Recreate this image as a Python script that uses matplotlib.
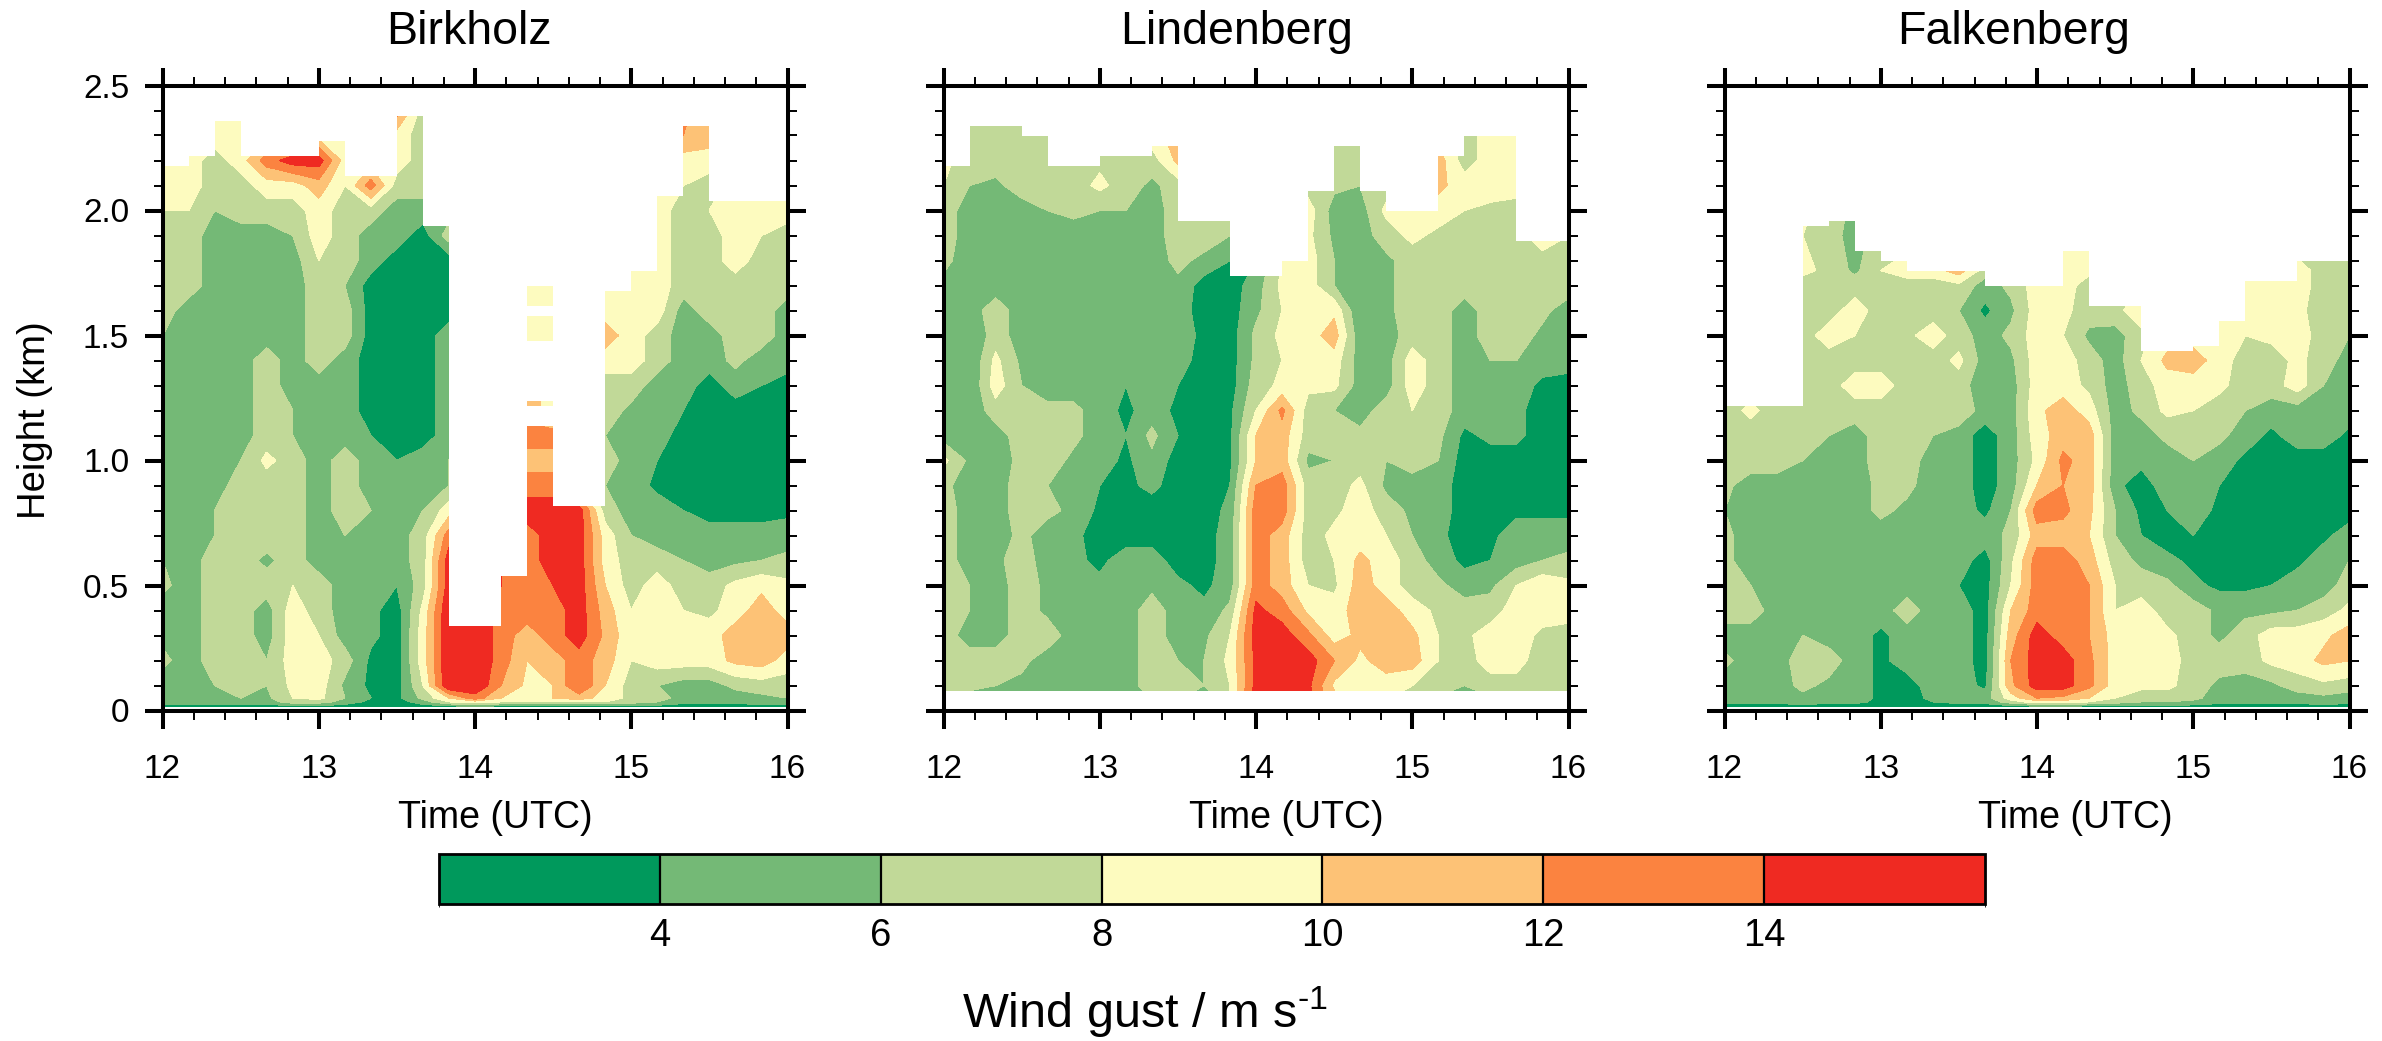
import numpy as np
import matplotlib
matplotlib.use("Agg")
import matplotlib.pyplot as plt
from matplotlib.ticker import MultipleLocator, FixedLocator
from matplotlib.colors import ListedColormap, BoundaryNorm
from matplotlib.cm import ScalarMappable

plt.rcParams['font.family'] = ['Liberation Sans', 'DejaVu Sans']
plt.rcParams['mathtext.fontset'] = 'custom'
plt.rcParams['mathtext.rm'] = 'Liberation Sans'
plt.rcParams['mathtext.default'] = 'regular'

times = [12 + i / 6 for i in range(25)]
levels = [2, 4, 6, 8, 10, 12, 14, 16]
colors = ['#00995c', '#74b976', '#c1d998', '#fdfbbf', '#fdc276', '#fb8340', '#ef2a22']
height_ticks = [0, 0.5, 1.0, 1.5, 2.0, 2.5]
height_labels = ['0', '0.5', '1.0', '1.5', '2.0', '2.5']
hour_ticks = [12, 13, 14, 15, 16]

heights_birkholz = [2.4, 2.3, 2.2, 2.1, 2.0, 1.9, 1.8, 1.7, 1.6, 1.5, 1.4, 1.3, 1.2, 1.1, 1.0,
                    0.9, 0.8, 0.7, 0.6, 0.5, 0.4, 0.3, 0.2, 0.1, 0.05, 0.035, 0.015]
gust_birkholz = [
    [9,9,9,9,9,9,9,9,9,13,7,7,7,7,7,7,7,7,9,9,13,9,9,9,9],
    [9,9,9,8,9,9,9,9,9,9,7,7,7,7,7,7,7,9,9,9,12,11,9,9,9],
    [9,9,7,9,13,15,15,9,9,9,7,7,7,7,7,7,7,7,9,9,9,9,9,9,9],
    [9,9,7,7,9,9,11,8,13,7,7,7,7,7,7,7,7,7,9,9,8,7,9,9,9],
    [8,8,6,7,7,7,9,7,7,5,5,5,5,5,5,5,5,5,7,9,7,8,10,10,9],
    [7,7,5,5,5,6,9,7,5,5,3,7,5,5,5,5,5,5,7,9,7,7,9,8,7],
    [7,7,5,5,5,5,8,7,5,3,3,3,3,5,5,5,5,7,9,9,7,7,9,7,7],
    [7,7,5,5,5,5,7,6,3,3,3,3,3,7,9,9,9,9,9,9,7,7,7,7,7],
    [7,5,5,5,5,5,7,7,3,3,3,3,3,7,8,8,9,9,9,9,5,7,7,7,5],
    [6,5,5,5,5,5,7,7,3,3,3,5,7,9,9,9,9,11,9,7,5,5,7,7,5],
    [5,5,5,5,7,5,7,5,3,3,3,5,7,9,9,9,9,9,9,7,5,5,6.5,5,5],
    [5,5,5,5,7,5,5,5,3,3,3,5,9,11,11,9,7,7,7,5,5,3,5,4,3],
    [5,5,5,5,7,6,5,5,3,3,3,5,9,11,11,9,7,7,5.5,5,4,3,3,3,3],
    [5,5,5,5,7,6,5,5,4,3,3,5,9,13,13,13,9,6,5,5,3,3,3,3,3],
    [5,5,5,6,8.5,7,5,7,5,4,5,6,9,11,11,11,9,7,5,4,3,3,3,3,3],
    [5,5,5,7,7,7,5,7,5,5,5,6,9,11,13,13,9,6,5,3.5,3,3,3,3,3],
    [5,5,6,7,7,7,5,7,6,5,6,9,11,13,15,15,15,7,5,5,4,3,3,3,3.5],
    [6,5,6,7,7,7,5,6,5,5,7,13,13,13,13,15,15,9,6,5,5,5,5,5,5],
    [6,5,7,7,5.5,7,5,5,5,5,7,15,15,14,13,15,15,9,7,7,6,5,5.5,6,6.5],
    [6.5,5,7,7,7,8,7,5,5,4,7,15,15,14,13,14,15,10,7,9,7,7,8.5,9.5,8.5],
    [5,5,7,7,5,9,7,5,4.5,3,8.5,15.9,15.9,13,13,13,15,11,8,9,8,7.5,9,11,9],
    [5.5,5,7,7,5,9,8,5,4.5,3,9,15.9,15.9,13,11,13,15,11.5,8.5,9,9.5,9,11,12,11],
    [6.5,5,7,7,6,9,9,7,3.5,3,9,15.9,15.9,13,10,11,13,11,8,9,9,9,10.5,11,9],
    [5,5,6,7,6,8.5,9,5.5,3.5,3,8,15.9,15.9,12,9.5,10,14,10,7,6,5,5,6.5,7,7],
    [5,5,5,6,5.5,8,8.5,6,4,3.5,6.5,10,13,10,9,10,11,9,7.5,7,5,5,5,5.5,6],
    [5,5,5,5,5,7,7,5,3.5,3,5,8,9,8,8,8,8,8,7,6,4.5,4.5,4.5,5,5],
    [3,3,3,3,3,3,3,3,3,3,3,3,3,3,3,3,3,3,3,3,3,3,3,3,3],
]
tops_birkholz = [2.18,2.22,2.36,2.22,2.22,2.22,2.28,2.14,2.14,2.38,1.94,0.34,0.34,0.54,1.70,
                 0.82,0.82,1.68,1.76,2.06,2.34,2.04,2.04,2.04]
gaps_birkholz = [(14, 1.14, 1.22), (14, 1.24, 1.48), (14, 1.58, 1.62)]

heights_lindenberg = [2.4, 2.3, 2.2, 2.1, 2.0, 1.9, 1.8, 1.7, 1.6, 1.5, 1.4, 1.3, 1.2, 1.1, 1.0,
                      0.9, 0.8, 0.7, 0.6, 0.5, 0.4, 0.3, 0.2, 0.1, 0.08]
gust_lindenberg = [
    [7,7,7,7,7,7,7,7,7,9,7,7,7,7,7,7,7,7,7,9,7,7,9,9,9],
    [7,7,8,7,7,7,7,7,9,11,7,7,7,7,7,7,7,7,7,9,7.5,8.5,9,9,9],
    [8.5,7,7,7,7,7,7.5,7,7,10.5,9,7,7,7,7,7,8,7,7,11,7,9,9,9,9],
    [8,6,5.5,7,7,7,8.5,7,5.5,7,7,7,7,7,7,6.5,6,7,7,10.5,9,9,9,9,9],
    [7,5,5,5,6,6.5,6,6,5,7,7,7,7,7,9,5,5,8.5,9,9,8,7.5,7,7,7],
    [7,5,5,5,5,5,5,5,5,7,7,6,6,7,8.5,5.5,5,7,8.5,7.5,7,7,7,9.5,8],
    [6.5,5,5,5,5,5,5,5,5,6.5,5.5,4,4,8,9,6,5,5.5,7,7,7,7,7,7,7],
    [5.5,5,5,5,5,5,5,5,5,5.5,3,3,5,8.5,9,6,5,5.5,7,7,7,7,7,7,7],
    [5,5,7,5,5,5,5,5,5,5,3,3,5.5,8,9,9.5,4,5.5,7,7,5,7,7,6.5,5],
    [5,4,7,5,5,5,5,5,5,5,3.5,3,6.5,8.5,9,11,4.5,5,7,7,5,7,7,5.5,5],
    [5,4,8.5,5.5,5,5,5,4.5,4.5,5,3,3,6.5,8,9,9,5,5,9,7,5,6,6,5,5],
    [6,4,9,6,5,5,5,4,5,4,3,3,7,8.5,8.5,8.5,5,5,9,7,5,5,5,3.5,3],
    [5.5,4.5,7,6.5,6.5,6.5,5,3.5,5,3.5,3,3.5,8,12.5,7,6,5,7,8,7,5,5,4.5,3,3],
    [5,5,5,7,7,6.5,5,4,6.5,4,3,3.5,10,11,7,7,6.5,7,7,6.5,3.5,4.5,4.5,3,3],
    [8.5,5.5,5,6.5,7,5.5,5,3.5,5.5,3,3,3.5,10,11,5.5,6,7,6,7,6,3,3,3,3,3],
    [6.5,5,5,7,6,5,4,3.5,4.5,3,3,4,12,13,7,7,8.5,5.5,5,5,3,3,3,3,3],
    [7,5,5,7,6.5,5.5,3.5,3,3,3,3,4.5,13,13,7,7.5,9,7,5.5,5,3,3,3.5,3.5,3.5],
    [7,5,5,6.5,5,4.5,3,3,3,3,3,5,13,11,7,8.5,9,8,6,4.5,3,3.5,5,5,5],
    [7,5,5.5,7,5,4.5,3.5,5,5,3,3,5,13,11,7,8,10.5,9,7,5,3.5,4,5,6,6.5],
    [7,6,5,7,5.5,5,4.5,5,5.5,4.5,3.5,5,13,11,8,7.5,11,9,7,6.5,5,5.5,8,9.5,8.5],
    [7,6,5,7,5.5,5,5,5,7,5,4.5,6.5,14.5,13,9.5,9,11,11,9,7.5,7,7,9,9,9],
    [7,5,5,7,7,5,5,5,7,5,5.5,8,15,15,12.5,9,10.5,11,10.5,8,7.5,9,9,7.5,7],
    [7,7,7,6.5,5,5,5,5,7,6,6,8.5,14.5,15,15,12,9.5,11,11,8,7,9,9,6.5,7.5],
    [7,7,6,5.5,5,5,5,5,7,7,6,8,14.5,15,14.5,9.5,9,9,8,7,6,7,7,7,8],
    [7,6,6,5.5,5,5,5,5,6.5,7,5.5,8,15,15,14.5,10,9,9,7.5,6.5,5.5,6.5,6.5,6.5,7.5],
]
tops_lindenberg = [2.18,2.34,2.34,2.30,2.18,2.18,2.22,2.22,2.26,1.96,1.96,1.74,1.74,1.80,2.08,
                   2.26,2.08,2.00,2.00,2.22,2.30,2.30,1.88,1.88]
gaps_lindenberg = []

heights_falkenberg = [2.0, 1.9, 1.76, 1.7, 1.6, 1.5, 1.4, 1.3, 1.2, 1.1, 1.0,
                      0.9, 0.8, 0.7, 0.6, 0.5, 0.4, 0.3, 0.2, 0.1, 0.05, 0.035, 0.015]
gust_falkenberg = [
    [7,7,7,8.5,7,5.5,7,7,7,7,7,7,7,9,9,7,7,7,7,7,7,7,7,7,7],
    [7,7,7,8,7,5,7,7,7,7,7,7,7,9,9,7,7,7,7,7,7,7,7,7,7],
    [7,7,7,8.5,7.5,5.5,8,9,9,11,7,8,9,9,8.5,8,8,8,8,8,8,8,8.5,7.5,8],
    [7,7,7,7,7,7,7,7,7,7.5,5,6.5,9,9,7,7,8,8,8,8,9,9,9,7,7.5],
    [7,7,7,7,7,9,7,7,7,6,3.5,5.5,9,8.5,7,7.5,9,9,9,9,9,9,8.5,7,7],
    [7,7,7,7,9,8,7,7.5,9,7,5,6.5,9,8,5.5,5,7.5,9,9,9,8,8.5,9,7,6],
    [7,7,7,7,7,7,7,7,7,8.5,5,5.5,9,9,7,5,8,10.5,11,9,7,7,8.5,7,5],
    [7,7,7,7,7,9,9,7,6,7,4.5,5,9,9,7.5,5,7,9,9,8.5,7,7,9,6,5],
    [7,8.5,7,7.5,7,7,7,7,7,7.5,5,5,9.5,11,9,5,6.5,8.5,8,7,6,5,5,5,5],
    [7,7,7,7.5,6,5,7,7,6,5,3,5,9,11,11,5,5,6.5,7,6.5,5,3.5,5,5,3.5],
    [7,7,7,6,5,5,7,7,5,5,3,5,8.5,12.5,11,5,4.5,5,6,5,3.5,3,3,3,3],
    [6.5,5,5,5,5,5,6.5,6.5,5,5,3,5,10,12,11,4.5,3,5,5,4,3,3,3,3,3],
    [6,5,5,5,5,5,6.5,5.5,5,5,3.5,6,13,12.5,10.5,6,3.5,4,5,3.5,3,3,3,3,3],
    [6.5,5,5,5,5,5,5,5,5,5,5,6.5,11,11,10,6,4,3,4,3,3,3,3,3.5,5],
    [6.5,5,5,5,5,5,5,5,5,5,3,7.5,13,13,11,7,5.5,4.5,3.5,3,3,3,3.5,5,6],
    [7,6,5,5,5,5,5,5,5,4,3,8,13,13,12,8,7,6.5,4.5,3.5,3.5,4,5,5,7],
    [7,7,5,5,5,5,5,7,5,5,3,10,13,13,12,8,9,7,7,5.5,5.5,5.5,6,7,8.5],
    [5,5,5,6,5,5,3.5,5,5,5,3,11,15,13,12,9,9.5,8.5,7,5.5,7,9,9,9.5,11],
    [6.5,5,5,7,7,5,3.5,5,6,5,3,12,15,15,12.5,9,9,9,7,7,7,8.5,9,10.5,10],
    [5,5,5,6.5,5.5,5,3.5,3,5,5,3.5,11.5,15,15,12.5,9,8.5,8.5,7,5.5,5,5.5,7,7.5,7],
    [5,5,5,5.5,5,5,3.5,3,4.5,5,5,9,12,11.5,10,8,7,7,6.5,5,5,5,5,5.5,5],
    [4.5,4.5,4.5,5,4.5,4.5,3.5,3,4,4.5,4.5,7,9,9,8,7,6,6,5.5,4.5,4.5,4.5,4.5,5,4.5],
    [3,3,3,3,3,3,3,3,3,3,3,3,3,3,3,3,3,3,3,3,3,3,3,3,3],
]
tops_falkenberg = [1.22,1.22,1.22,1.94,1.96,1.84,1.80,1.76,1.76,1.76,1.70,1.70,1.70,1.84,1.62,
                   1.62,1.44,1.44,1.46,1.56,1.72,1.72,1.80,1.80]
gaps_falkenberg = []

panels = [
    ('Birkholz', heights_birkholz, gust_birkholz, tops_birkholz, gaps_birkholz, 162.5, 469, 495),
    ('Lindenberg', heights_lindenberg, gust_lindenberg, tops_lindenberg, gaps_lindenberg, 943.5, 1237, 1286),
    ('Falkenberg', heights_falkenberg, gust_falkenberg, tops_falkenberg, gaps_falkenberg, 1724.5, 2014, 2075),
]

W, H = 2382, 1041
fig = plt.figure(figsize=(W / 100, H / 100), dpi=100)
cmap = ListedColormap(colors)
norm = BoundaryNorm(levels, cmap.N)
LW = 2.9

for k, (name, hts, gust, tops, gaps, left, title_x, label_x) in enumerate(panels):
    ax = fig.add_axes([left / W, 1 - 710.5 / H, 625 / W, 625 / H])
    cs = ax.contourf(times, hts, np.array(gust, dtype=float), levels=levels, colors=colors)
    cs.set_edgecolor('face')
    cs.set_linewidth(0.3)
    for i, top in enumerate(tops):
        ax.fill_between(times[i:i + 2], [top, top], [2.5, 2.5], color='white', lw=0, zorder=2)
    for i, lo, hi in gaps:
        ax.fill_between(times[i:i + 2], [lo, lo], [hi, hi], color='white', lw=0, zorder=2)
    ax.set_xlim(12, 16)
    ax.set_ylim(0, 2.5)
    ax.xaxis.set_major_locator(FixedLocator(hour_ticks))
    ax.xaxis.set_minor_locator(MultipleLocator(0.2))
    ax.yaxis.set_major_locator(FixedLocator(height_ticks))
    ax.yaxis.set_minor_locator(MultipleLocator(0.1))
    ax.tick_params(which='major', direction='out', length=13, width=LW, top=True, right=True,
                   labelsize=24, pad=11)
    ax.tick_params(axis='x', which='major', pad=18)
    ax.tick_params(which='minor', direction='out', length=6.5, width=1.4, top=True, right=True)
    for s in ax.spines.values():
        s.set_linewidth(LW)
        s.set_zorder(5)
    ax.set_yticklabels(height_labels if k == 0 else [])
    ax.set_xticklabels([str(v) for v in hour_ticks])
    fig.text(label_x / W, 1 - 828 / H, 'Time (UTC)', fontsize=27, ha='center', va='baseline')
    fig.text(title_x / W, 1 - 44 / H, name, fontsize=33.5, ha='center', va='baseline')

fig.text(35 / W, 1 - 420 / H, 'Height (km)', fontsize=27.5, rotation=90, ha='center', va='center')

cax = fig.add_axes([439 / W, 1 - 904 / H, 1546 / W, 50 / H])
cb = fig.colorbar(ScalarMappable(norm=norm, cmap=cmap), cax=cax, orientation='horizontal',
                  spacing='proportional', ticks=levels[1:-1], drawedges=True)
cb.outline.set_linewidth(2.0)
cb.dividers.set_linewidth(1.6)
cb.dividers.set_color('black')
cax.tick_params(length=0, labelsize=27.5, pad=10)
cb.ax.set_xticklabels([str(v) for v in levels[1:-1]])
fig.text(1145 / W, 1 - 1028 / H, 'Wind gust / m s$^{\u20101}$', fontsize=35, ha='center', va='baseline')

fig.savefig('out.png', dpi=100)
